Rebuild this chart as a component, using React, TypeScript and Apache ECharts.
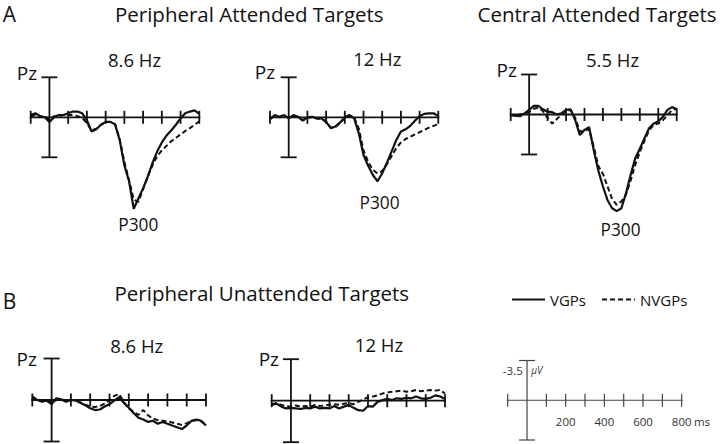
import React, { useEffect, useRef } from "react";
import * as echarts from "echarts";

// ---------- data ----------
const TIMES = [-100, -75, -50, -25, 0, 25, 50, 75, 100, 125, 150, 175, 200, 225, 250, 275, 300, 325, 350, 375, 400, 425, 450, 475, 500, 525, 550, 575, 600, 625, 650, 675, 700, 725, 750, 775, 800];
const X_TICKS = [-100, 0, 100, 200, 300, 400, 500, 600, 700, 800];
const SCALE_TICK_LABELS = [200, 400, 600, 800];
const Y_SCALE = 3.5; // µV, half-height of the vertical scale bar

const a1Vgp = [-0.2, -0.35, -0.1, 0.0, 0.4, 0.0, -0.2, -0.2, -0.35, -0.5, -0.5, -0.35, 0.25, 1.25, 1.05, 0.65, 0.4, 0.4, 0.6, 2.0, 4.2, 5.6, 8.0, 7.1, 6.2, 5.2, 4.0, 3.0, 2.2, 1.6, 1.15, 0.65, 0.1, -0.35, -0.5, -0.6, -0.3];
const a1Nvgp = [-0.1, -0.2, 0.0, -0.1, 0.2, -0.1, -0.1, -0.2, -0.2, -0.2, -0.1, 0.05, 0.5, 1.15, 1.0, 0.65, 0.45, 0.4, 0.6, 1.9, 3.9, 5.5, 7.2, 7.4, 6.3, 5.2, 4.2, 3.4, 2.9, 2.5, 2.1, 1.8, 1.5, 1.2, 0.95, 0.65, 0.35];
const a2Vgp = [0.2, -0.2, -0.05, -0.2, 0.1, -0.2, -0.05, 0.3, 0.0, -0.05, 0.1, 0.1, 0.4, 0.95, 0.8, 0.45, 0.0, -0.2, 0.1, 1.4, 3.3, 4.25, 5.05, 5.6, 4.9, 4.0, 3.0, 2.0, 1.25, 1.05, 0.75, 0.3, -0.1, -0.3, -0.35, -0.35, -0.1];
const a2Nvgp = [0.1, -0.1, 0.0, -0.1, 0.0, -0.1, 0.0, 0.25, 0.05, 0.0, 0.1, 0.15, 0.35, 0.9, 0.85, 0.5, 0.05, -0.15, 0.0, 1.0, 2.9, 3.9, 4.6, 4.9, 4.7, 4.1, 3.4, 2.7, 2.2, 1.9, 1.7, 1.5, 1.3, 1.1, 0.9, 0.75, 0.6];
const a3Vgp = [0.05, 0.1, 0.15, -0.1, -0.4, -0.75, -0.75, -0.45, -0.25, -0.2, 0.0, -0.1, -0.4, -0.45, 0.5, 1.8, 1.35, 1.1, 3.1, 4.9, 6.3, 7.5, 8.2, 8.45, 8.2, 6.9, 5.3, 3.85, 3.0, 2.1, 1.2, 0.8, 0.6, 0.2, -0.4, -0.65, -0.45];
const a3Nvgp = [0.05, 0.1, 0.0, -0.1, -0.2, -0.5, -0.6, -0.3, 0.3, 0.8, 0.4, 0.0, -0.3, -0.4, 0.3, 1.5, 1.4, 1.3, 2.8, 4.5, 5.2, 6.3, 7.4, 7.9, 7.6, 7.0, 5.8, 4.4, 3.3, 2.3, 1.4, 0.9, 0.8, 0.5, 0.05, -0.4, -0.5];
const b1Vgp = [-0.3, 0.0, 0.15, 0.05, 0.35, -0.15, -0.05, 0.15, 0.0, 0.05, 0.25, 0.45, 0.7, 0.85, 0.8, 0.55, 0.35, 0.05, -0.25, 0.25, 0.65, 1.1, 1.5, 1.65, 1.85, 1.75, 2.0, 1.85, 2.0, 2.15, 2.3, 2.45, 2.15, 1.75, 1.65, 1.75, 2.15];
const b1Nvgp = [-0.2, 0.05, 0.0, 0.1, 0.2, 0.0, -0.1, 0.1, 0.0, 0.0, 0.2, 0.4, 0.55, 0.6, 0.5, 0.3, 0.0, -0.35, -0.5, 0.2, 0.7, 1.0, 1.25, 0.85, 1.3, 1.55, 1.7, 1.75, 1.8, 1.9, 2.0, 2.1, 1.95, 1.75, 1.7, 1.8, 2.1];
const b2Vgp = [0.35, 0.25, 0.5, 0.65, 0.6, 0.65, 0.7, 0.6, 0.65, 0.5, 0.65, 0.6, 0.65, 0.45, 0.65, 0.5, 0.35, 0.6, 0.8, 0.85, 0.45, 0.5, 0.1, -0.05, -0.15, -0.05, -0.2, -0.15, -0.25, -0.2, -0.35, -0.2, -0.15, -0.25, -0.45, -0.35, -0.15];
const b2Nvgp = [0.3, 0.2, 0.35, 0.45, 0.5, 0.4, 0.5, 0.45, 0.5, 0.35, 0.45, 0.4, 0.35, 0.3, 0.35, 0.25, 0.2, 0.3, 0.1, -0.1, -0.3, -0.35, -0.45, -0.6, -0.7, -0.75, -0.8, -0.85, -0.75, -0.8, -0.9, -0.8, -0.85, -0.9, -0.85, -0.9, -0.6];

const FONT = '"Open Sans", "Noto Sans", sans-serif';
const INK = "#111";

type Panel = {
  grid: { left: number; top: number; width: number; height: number };
  vgp: number[] | null;
  nvgp: number[] | null;
  scale?: boolean;
};

const PANELS: Panel[] = [
  { grid: { left: 30.7, top: 77.3, width: 168.6, height: 80 }, vgp: a1Vgp, nvgp: a1Nvgp },
  { grid: { left: 270, top: 77.3, width: 168.3, height: 80 }, vgp: a2Vgp, nvgp: a2Nvgp },
  { grid: { left: 510.7, top: 74.5, width: 166, height: 80 }, vgp: a3Vgp, nvgp: a3Nvgp },
  { grid: { left: 32.3, top: 358.5, width: 173.7, height: 83 }, vgp: b1Vgp, nvgp: b1Nvgp },
  { grid: { left: 271.7, top: 359.2, width: 173.3, height: 83 }, vgp: b2Vgp, nvgp: b2Nvgp },
  { grid: { left: 507.7, top: 360.5, width: 174, height: 79.5 }, vgp: null, nvgp: null, scale: true },
];

function axesSeries(i: number, color: string, width: number) {
  return {
    type: "custom",
    xAxisIndex: i,
    yAxisIndex: i,
    silent: true,
    z: 1,
    data: X_TICKS.map((t) => [t, 0]),
    renderItem: (params: any, api: any) => {
      const t = api.value(0);
      const p = api.coord([t, 0]);
      const style = { stroke: color, lineWidth: width, fill: "none" };
      const children: any[] = [];
      if (params.dataIndex === 0) {
        const a = api.coord([X_TICKS[0], 0]);
        const b = api.coord([X_TICKS[X_TICKS.length - 1], 0]);
        children.push({ type: "line", shape: { x1: a[0] - 1, y1: a[1], x2: b[0] + 1, y2: b[1] }, style });
      }
      if (t === 0) {
        const top = api.coord([0, -Y_SCALE]);
        const bot = api.coord([0, Y_SCALE]);
        children.push({ type: "line", shape: { x1: top[0], y1: top[1], x2: bot[0], y2: bot[1] }, style });
        children.push({ type: "line", shape: { x1: top[0] - 8, y1: top[1], x2: top[0] + 8, y2: top[1] }, style });
        children.push({ type: "line", shape: { x1: bot[0] - 8, y1: bot[1], x2: bot[0] + 8, y2: bot[1] }, style });
      } else {
        children.push({ type: "line", shape: { x1: p[0], y1: p[1] - 6.5, x2: p[0], y2: p[1] + 6.5 }, style });
      }
      return { type: "group", children };
    },
  };
}

function scaleLabelSeries(i: number) {
  return {
    type: "custom",
    xAxisIndex: i,
    yAxisIndex: i,
    silent: true,
    z: 2,
    data: SCALE_TICK_LABELS.map((v) => [v, 0]),
    renderItem: (_params: any, api: any) => {
      const v = api.value(0);
      const p = api.coord([v, 0]);
      return {
        type: "text",
        x: p[0],
        y: p[1] + 21.5,
        style: {
          text: String(v),
          fontSize: 11.5,
          fontFamily: FONT,
          fill: "#333",
          align: "center",
          verticalAlign: "middle",
        },
      };
    },
  };
}

function txt(text: string, x: number, y: number, fontSize: number, extra: any = {}) {
  return {
    type: "text",
    x,
    y,
    silent: true,
    style: {
      text,
      fontSize,
      fontFamily: FONT,
      fill: INK,
      align: "center",
      verticalAlign: "middle",
      ...extra,
    },
  };
}

export default function App() {
  const ref = useRef<HTMLDivElement>(null);

  useEffect(() => {
    if (!ref.current) return;
    const chart = echarts.init(ref.current, undefined, { renderer: "svg" });

    const series: any[] = [];
    PANELS.forEach((p, i) => {
      series.push(axesSeries(i, p.scale ? "#444" : INK, p.scale ? 1.2 : 1.8));
      if (p.scale) series.push(scaleLabelSeries(i));
      if (p.vgp) {
        series.push({
          type: "line",
          name: "VGPs",
          xAxisIndex: i,
          yAxisIndex: i,
          data: TIMES.map((t, k) => [t, p.vgp![k]]),
          symbol: "none",
          clip: false,
          z: 3,
          lineStyle: { color: INK, width: 2.2, type: "solid" },
          itemStyle: { color: INK },
        });
      }
      if (p.nvgp) {
        series.push({
          type: "line",
          name: "NVGPs",
          xAxisIndex: i,
          yAxisIndex: i,
          data: TIMES.map((t, k) => [t, p.nvgp![k]]),
          symbol: "none",
          clip: false,
          z: 3,
          lineStyle: { color: INK, width: 2, type: [5, 3] },
          itemStyle: { color: INK },
        });
      }
    });

    const option: any = {
      animation: false,
      backgroundColor: "#fff",
      grid: PANELS.map((p) => ({ ...p.grid, containLabel: false, outerBoundsMode: "none" })),
      xAxis: PANELS.map((p, i) => ({
        gridIndex: i,
        type: "value",
        min: X_TICKS[0],
        max: X_TICKS[X_TICKS.length - 1],
        interval: 100,
        axisLine: { show: false },
        axisTick: { show: false },
        splitLine: { show: false },
        axisLabel: { show: false },
      })),
      yAxis: PANELS.map((p, i) => ({
        gridIndex: i,
        type: "value",
        min: -Y_SCALE,
        max: Y_SCALE,
        inverse: true,
        axisLine: { show: false },
        axisTick: { show: false },
        axisLabel: { show: false },
        splitLine: { show: false },
      })),
      legend: {
        data: ["VGPs", "NVGPs"],
        left: 506,
        top: 287,
        itemWidth: 33,
        itemHeight: 14,
        itemGap: 15,
        selectedMode: false,
        itemStyle: { opacity: 0 },
        lineStyle: { width: 2 },
        textStyle: { fontFamily: FONT, fontSize: 15, color: INK },
      },
      series,
      graphic: [
        txt("A", 9.5, 13.5, 21),
        txt("Peripheral Attended Targets", 249.3, 13.5, 20.5),
        txt("Central Attended Targets", 597, 13.5, 20.5),
        txt("8.6 Hz", 134.5, 59, 18.5),
        txt("12 Hz", 377.3, 58, 18.5),
        txt("5.5 Hz", 612.5, 59, 18.5),
        txt("Pz", 27, 73, 19),
        txt("Pz", 265, 72, 19),
        txt("Pz", 506.7, 70, 19),
        txt("P300", 138.3, 224, 17.3),
        txt("P300", 379.5, 202.5, 17.3),
        txt("P300", 620.5, 229, 17.3),
        txt("B", 9.5, 300.5, 21),
        txt("Peripheral Unattended Targets", 261.8, 292.5, 20.5),
        txt("8.6 Hz", 136.7, 345, 18.5),
        txt("12 Hz", 379, 344, 18.5),
        txt("Pz", 26.7, 359, 19),
        txt("Pz", 268.8, 359, 19),
        txt("-3.5", 512.8, 370, 11.5, { fill: "#333" }),
        txt("µV", 536.8, 370, 10, { fill: "#333", fontStyle: "italic" }),
        txt("ms", 702, 421.7, 11.5, { fill: "#333" }),
      ],
    };

    chart.setOption(option);
    return () => chart.dispose();
  }, []);

  return (
    <div
      ref={ref}
      style={{ position: "fixed", left: 0, top: 0, width: 720, height: 444, background: "#fff" }}
    />
  );
}
